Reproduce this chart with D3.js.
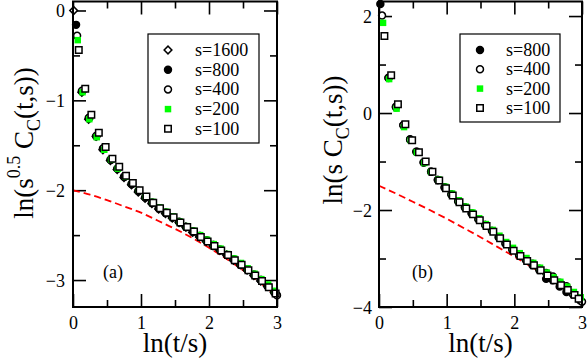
<!DOCTYPE html>
<html>
<head>
<meta charset="utf-8">
<script src="https://cdn.jsdelivr.net/npm/d3@7"></script>
<style>
  body { margin: 0; background: #fff; }
</style>
</head>
<body>
<div id="chart"></div>
<script>
"use strict";

// ---- panel (a): ln(s^0.5 C_C(t,s)) against ln(t/s)
const aX1600 = [0.01, 0.13, 0.23, 0.34, 0.44, 0.55, 0.65, 0.75, 0.86, 0.96, 1.06, 1.16, 1.26, 1.36, 1.46, 1.56, 1.66, 1.76, 1.86, 1.96, 2.06, 2.16, 2.26, 2.36, 2.46, 2.56, 2.66, 2.76, 2.86, 2.96];
const aY1600 = [0.00, -0.91, -1.21, -1.40, -1.55, -1.67, -1.77, -1.86, -1.94, -2.02, -2.09, -2.15, -2.21, -2.26, -2.31, -2.36, -2.41, -2.47, -2.52, -2.57, -2.62, -2.67, -2.72, -2.78, -2.83, -2.89, -2.95, -3.01, -3.07, -3.14];
const aX800 = [0.045, 0.13, 0.23, 0.34, 0.44, 0.55, 0.65, 0.75, 0.86, 0.96, 1.06, 1.16, 1.26, 1.36, 1.46, 1.56, 1.66, 1.76, 1.86, 1.96, 2.06, 2.16, 2.26, 2.36, 2.46, 2.56, 2.66, 2.76, 2.86, 2.96];
const aY800 = [-0.16, -0.90, -1.20, -1.40, -1.54, -1.66, -1.76, -1.85, -1.93, -2.01, -2.08, -2.14, -2.20, -2.25, -2.30, -2.35, -2.41, -2.46, -2.51, -2.56, -2.61, -2.66, -2.72, -2.77, -2.83, -2.88, -2.94, -3.00, -3.07, -3.14];
const aX400 = [0.06, 0.14, 0.24, 0.35, 0.45, 0.56, 0.66, 0.76, 0.87, 0.97, 1.07, 1.17, 1.27, 1.37, 1.47, 1.57, 1.67, 1.77, 1.87, 1.97, 2.07, 2.17, 2.27, 2.37, 2.47, 2.57, 2.67, 2.77, 2.87, 3.00];
const aY400 = [-0.28, -0.89, -1.19, -1.39, -1.53, -1.66, -1.76, -1.85, -1.93, -2.01, -2.08, -2.14, -2.20, -2.25, -2.30, -2.36, -2.41, -2.46, -2.51, -2.56, -2.61, -2.67, -2.72, -2.77, -2.83, -2.88, -2.94, -3.00, -3.07, -3.17];
const aX200 = [0.07, 0.14, 0.24, 0.35, 0.46, 0.56, 0.66, 0.77, 0.87, 0.97, 1.07, 1.17, 1.27, 1.37, 1.47, 1.57, 1.67, 1.77, 1.87, 1.97, 2.07, 2.17, 2.27, 2.37, 2.47, 2.57, 2.67, 2.77, 2.87, 2.97];
const aY200 = [-0.33, -0.91, -1.21, -1.41, -1.55, -1.66, -1.76, -1.85, -1.92, -2.00, -2.07, -2.13, -2.19, -2.24, -2.29, -2.35, -2.40, -2.45, -2.50, -2.55, -2.60, -2.65, -2.71, -2.76, -2.81, -2.87, -2.93, -2.99, -3.05, -3.12];
const aX100 = [0.085, 0.18, 0.27, 0.38, 0.48, 0.58, 0.68, 0.78, 0.88, 0.98, 1.08, 1.18, 1.28, 1.38, 1.48, 1.58, 1.68, 1.78, 1.88, 1.98, 2.08, 2.18, 2.28, 2.38, 2.48, 2.58, 2.68, 2.78, 2.88, 2.98];
const aY100 = [-0.44, -0.87, -1.16, -1.36, -1.52, -1.65, -1.74, -1.84, -1.92, -2.00, -2.07, -2.14, -2.20, -2.25, -2.30, -2.36, -2.41, -2.46, -2.52, -2.57, -2.62, -2.67, -2.72, -2.78, -2.83, -2.89, -2.95, -3.01, -3.08, -3.15];
// red dashed curve, panel (a)
const aFitX = [0, 0.25, 0.5, 0.75, 1, 1.25, 1.5, 1.75, 2, 2.25, 2.5, 2.75, 3];
const aFitY = [-2.00, -2.05, -2.11, -2.18, -2.25, -2.34, -2.43, -2.53, -2.64, -2.76, -2.89, -3.03, -3.18];

// ---- panel (b): ln(s C_C(t,s)) against ln(t/s)
const bX800 = [0.02, 0.14, 0.25, 0.36, 0.46, 0.55, 0.66, 0.77, 0.87, 0.97, 1.07, 1.17, 1.27, 1.37, 1.47, 1.57, 1.67, 1.77, 1.87, 1.97, 2.07, 2.17, 2.27, 2.37, 2.47, 2.57, 2.67, 2.77, 2.87, 2.97];
const bY800 = [2.25, 0.73, 0.13, -0.25, -0.54, -0.80, -1.02, -1.21, -1.38, -1.53, -1.68, -1.82, -1.95, -2.07, -2.19, -2.31, -2.43, -2.56, -2.69, -2.82, -2.93, -3.03, -3.14, -3.24, -3.42, -3.45, -3.58, -3.69, -3.74, -3.86];
const bX400 = [0.045, 0.14, 0.25, 0.36, 0.46, 0.56, 0.66, 0.77, 0.87, 0.97, 1.07, 1.17, 1.27, 1.37, 1.47, 1.57, 1.67, 1.77, 1.87, 1.97, 2.07, 2.17, 2.27, 2.37, 2.47, 2.57, 2.67, 2.77, 2.87, 3.00];
const bY400 = [2.01, 0.72, 0.12, -0.25, -0.55, -0.80, -1.02, -1.21, -1.38, -1.54, -1.68, -1.82, -1.95, -2.07, -2.19, -2.31, -2.43, -2.56, -2.69, -2.81, -2.92, -3.02, -3.11, -3.21, -3.30, -3.37, -3.50, -3.57, -3.74, -3.89];
const bX200 = [0.06, 0.15, 0.26, 0.37, 0.47, 0.56, 0.67, 0.77, 0.88, 0.98, 1.08, 1.18, 1.28, 1.38, 1.48, 1.58, 1.68, 1.78, 1.88, 1.98, 2.08, 2.18, 2.28, 2.38, 2.48, 2.58, 2.68, 2.78, 2.88, 2.98];
const bY200 = [1.86, 0.70, 0.09, -0.29, -0.56, -0.81, -1.03, -1.21, -1.37, -1.52, -1.66, -1.80, -1.93, -2.05, -2.17, -2.29, -2.41, -2.53, -2.66, -2.78, -2.89, -2.99, -3.09, -3.19, -3.29, -3.39, -3.48, -3.58, -3.69, -3.80];
const bX100 = [0.08, 0.18, 0.28, 0.39, 0.49, 0.59, 0.69, 0.79, 0.89, 0.99, 1.09, 1.19, 1.29, 1.39, 1.49, 1.59, 1.69, 1.79, 1.89, 1.99, 2.09, 2.19, 2.29, 2.39, 2.49, 2.59, 2.69, 2.79, 2.89, 2.95];
const bY100 = [1.59, 0.78, 0.18, -0.23, -0.56, -0.81, -1.00, -1.21, -1.39, -1.55, -1.70, -1.84, -1.97, -2.09, -2.21, -2.33, -2.45, -2.58, -2.71, -2.84, -2.95, -3.05, -3.14, -3.24, -3.35, -3.45, -3.55, -3.65, -3.75, -3.83];
const bFitX = [0, 0.25, 0.5, 0.75, 1, 1.25, 1.5, 1.75, 2, 2.25, 2.5, 2.75, 3];
const bFitY = [-1.50, -1.66, -1.83, -2.00, -2.18, -2.37, -2.56, -2.76, -2.96, -3.17, -3.40, -3.64, -3.89];

// ticks and legend text
const xTicks = [0, 1, 2, 3];
const aYTicks = [-3, -2, -1, 0];
const bYTicks = [-4, -2, 0, 2];
const legendA = ["s=1600", "s=800", "s=400", "s=200", "s=100"];
const legendB = ["s=800", "s=400", "s=200", "s=100"];

const width = 588, height = 361;
const serif = "Liberation Serif";
const green = "#00ff00";

// marker look for each s
const markerStyle = {
  "s=1600": { shape: "diamond", fill: "#fff", stroke: "#000" },
  "s=800":  { shape: "circle",  fill: "#000", stroke: "#000" },
  "s=400":  { shape: "circle",  fill: "#fff", stroke: "#000" },
  "s=200":  { shape: "square",  fill: green,  stroke: "none" },
  "s=100":  { shape: "square",  fill: "#fff", stroke: "#000" }
};

let symbolPath = (shape) => {
  if (shape === "circle") return d3.symbol(d3.symbolCircle, 38)();
  if (shape === "diamond") return d3.symbol(d3.symbolSquare, 30)();
  return d3.symbol(d3.symbolSquare, 42)();
};

let drawMarker = (g, name, px, py) => {
  let st = markerStyle[name];
  g.append("path")
    .attr("d", symbolPath(st.shape))
    .attr("transform", "translate(" + px + "," + py + ")" + (st.shape === "diamond" ? " rotate(45)" : ""))
    .attr("fill", st.fill)
    .attr("stroke", st.stroke)
    .attr("stroke-width", name === "s=200" ? 0 : 1.5);
};

var svg = d3.select("#chart").append("svg")
    .attr("width", width)
    .attr("height", height)
    .style("font-family", serif);

let addText = (sel, size) => sel.append("text")
    .style("font-family", serif)
    .style("font-size", size + "px")
    .attr("fill", "#000");

let drawPanel = (cfg) => {
  var x = d3.scaleLinear().domain([0, 3]).range([cfg.left, cfg.right]);
  var y = d3.scaleLinear().domain(cfg.yDomain).range([cfg.bottom, cfg.top]);

  var xMinor = d3.range(0.5, 3, 1);
  var yMinor = d3.range(Math.ceil(cfg.yDomain[0] / cfg.yMinorStep) * cfg.yMinorStep, cfg.yDomain[1], cfg.yMinorStep)
      .map(v => +v.toFixed(3))
      .filter(v => cfg.yTicks.indexOf(v) < 0);

  let addAxis = (axis, tx, ty, vals, size, labels) => {
    var g = svg.append("g")
        .attr("transform", "translate(" + tx + "," + ty + ")")
        .call(axis.tickValues(vals).tickSize(-size).tickPadding(labels ? cfg.pad : 0)
              .tickFormat(labels ? d3.format("d") : ""));
    g.select(".domain").remove();
    g.selectAll("line").attr("stroke", "#000").attr("stroke-width", 1.6);
    g.selectAll("text")
      .style("font-family", serif)
      .style("font-size", "18px")
      .attr("fill", "#000");
    return g;
  };

  // ticks on all four sides, pointing in
  var bx = addAxis(d3.axisBottom(x), 0, cfg.bottom, xTicks, 13, true);
  bx.selectAll("text").attr("y", 9);
  addAxis(d3.axisBottom(x), 0, cfg.bottom, xMinor, 7, false);
  addAxis(d3.axisTop(x), 0, cfg.top, xTicks, 13, false);
  addAxis(d3.axisTop(x), 0, cfg.top, xMinor, 7, false);
  var ly = addAxis(d3.axisLeft(y), cfg.left, 0, cfg.yTicks, 13, true);
  ly.selectAll("text").attr("x", -cfg.pad).attr("dy", "0.34em");
  addAxis(d3.axisLeft(y), cfg.left, 0, yMinor, 7, false);
  addAxis(d3.axisRight(y), cfg.right, 0, cfg.yTicks, 13, false);
  addAxis(d3.axisRight(y), cfg.right, 0, yMinor, 7, false);

  // red dashed curve
  var line = d3.line().x(d => x(d[0])).y(d => y(d[1])).curve(d3.curveMonotoneX);
  svg.append("path")
    .datum(d3.zip(cfg.fitX, cfg.fitY))
    .attr("d", line)
    .attr("fill", "none")
    .attr("stroke", "#ff0000")
    .attr("stroke-width", 1.8)
    .attr("stroke-dasharray", "7,4");

  // data markers, first set at the bottom
  var clip = "clip" + cfg.id;
  svg.append("clipPath").attr("id", clip).append("rect")
    .attr("x", cfg.left - 6).attr("y", cfg.top - 6)
    .attr("width", cfg.right - cfg.left + 12).attr("height", cfg.bottom - cfg.top + 6);
  var pts = svg.append("g").attr("clip-path", "url(#" + clip + ")");
  cfg.series.forEach((s) => {
    s.xs.forEach((v, i) => drawMarker(pts, s.name, x(v), y(s.ys[i])));
  });

  // frame
  svg.append("rect")
    .attr("x", cfg.left).attr("y", cfg.top)
    .attr("width", cfg.right - cfg.left).attr("height", cfg.bottom - cfg.top)
    .attr("fill", "none").attr("stroke", "#000").attr("stroke-width", 2);

  // legend
  var lg = cfg.legend;
  svg.append("rect")
    .attr("x", lg.x).attr("y", lg.y).attr("width", lg.w).attr("height", lg.h)
    .attr("fill", "#fff").attr("stroke", "#000").attr("stroke-width", 1.2);
  cfg.legendNames.forEach((name, i) => {
    var ry = lg.row0 + i * lg.step;
    drawMarker(svg, name, lg.sx, ry);
    addText(svg, 18).attr("x", lg.tx).attr("y", ry + 6).text(name);
  });

  // panel tag
  addText(svg, 18).attr("x", cfg.tag.x).attr("y", cfg.tag.y).text(cfg.tag.text);

  // x title
  addText(svg, 27)
    .attr("x", (cfg.left + cfg.right) / 2).attr("y", 352)
    .attr("text-anchor", "middle")
    .text("ln(t/s)");

  // y title with super/subscript
  var yt = addText(svg, 27)
    .attr("transform", "translate(" + cfg.yTitleX + "," + cfg.yTitleY + ") rotate(-90)")
    .attr("text-anchor", "middle");
  cfg.yTitle.forEach((part) => {
    yt.append("tspan")
      .attr("dy", part.dy || 0)
      .style("font-size", (part.size || 27) + "px")
      .text(part.t);
  });
};

drawPanel({
  id: "a", left: 73, right: 277, top: 1.5, bottom: 307,
  yDomain: [-3.3, 0.1], yTicks: aYTicks, yMinorStep: 0.5, pad: 8,
  fitX: aFitX, fitY: aFitY,
  series: [
    { name: "s=1600", xs: aX1600, ys: aY1600 },
    { name: "s=800", xs: aX800, ys: aY800 },
    { name: "s=400", xs: aX400, ys: aY400 },
    { name: "s=200", xs: aX200, ys: aY200 },
    { name: "s=100", xs: aX100, ys: aY100 }
  ],
  legendNames: legendA,
  legend: { x: 148, y: 34, w: 111, h: 109, sx: 168, tx: 195, row0: 50, step: 19.7 },
  tag: { x: 103, y: 278, text: "(a)" },
  yTitleX: 33, yTitleY: 143,
  yTitle: [
    { t: "ln(s" },
    { t: "0.5", size: 18, dy: -13 },
    { t: " C", dy: 13 },
    { t: "C", size: 18, dy: 7 },
    { t: "(t,s))", dy: -7 }
  ]
});

drawPanel({
  id: "b", left: 379, right: 582, top: 1.5, bottom: 307,
  yDomain: [-4, 2.3], yTicks: bYTicks, yMinorStep: 1, pad: 7,
  fitX: bFitX, fitY: bFitY,
  series: [
    { name: "s=800", xs: bX800, ys: bY800 },
    { name: "s=400", xs: bX400, ys: bY400 },
    { name: "s=200", xs: bX200, ys: bY200 },
    { name: "s=100", xs: bX100, ys: bY100 }
  ],
  legendNames: legendB,
  legend: { x: 460, y: 34, w: 100, h: 88, sx: 480, tx: 506, row0: 50, step: 19.3 },
  tag: { x: 412, y: 278, text: "(b)" },
  yTitleX: 342, yTitleY: 140,
  yTitle: [
    { t: "ln(s C" },
    { t: "C", size: 18, dy: 7 },
    { t: "(t,s))", dy: -7 }
  ]
});
</script>
</body>
</html>
